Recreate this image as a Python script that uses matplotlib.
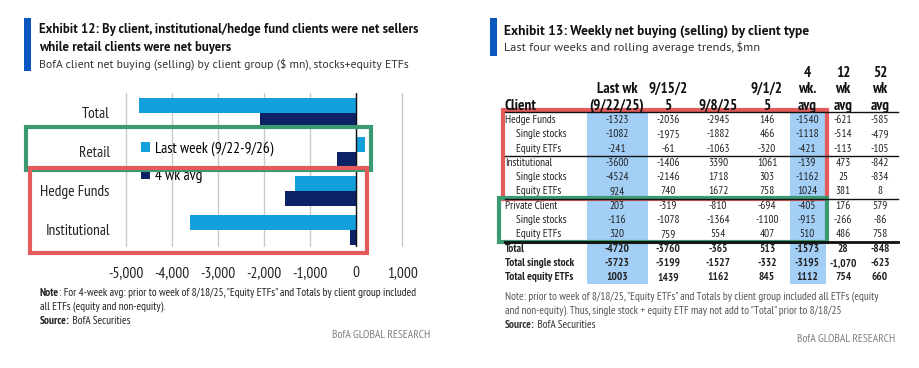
import matplotlib
matplotlib.use('Agg')
import matplotlib.pyplot as plt
from matplotlib.patches import Rectangle

plt.rcParams['font.family'] = ['PT Sans Narrow', 'DejaVu Sans']
HEAD_FONT = ['PT Sans', 'DejaVu Sans']

# ---- Exhibit 12 data
groups = ['Total', 'Retail', 'Hedge Funds', 'Institutional']
last_week = [-4720, 203, -1323, -3600]
avg_4wk = [-2084, -405, -1540, -139]
xticks = [-5000, -4000, -3000, -2000, -1000, 0, 1000]

# ---- Exhibit 13 data
col_heads = [['', '', 'Client'],
             ['', 'Last wk', '(9/22/25)'],
             ['', '9/15/2', '5'],
             ['', '', '9/8/25'],
             ['', '9/1/2', '5'],
             ['4', 'wk.', 'avg'],
             ['12', 'wk', 'avg'],
             ['52', 'wk', 'avg']]
row_names = ['Hedge Funds', 'Single stocks', 'Equity ETFs',
             'Institutional', 'Single stocks', 'Equity ETFs',
             'Private Client', 'Single stocks', 'Equity ETFs',
             'Total', 'Total single stock', 'Total equity ETFs']
row_indent = [0, 1, 1, 0, 1, 1, 0, 1, 1, 0, 0, 0]
row_bold = [0, 0, 0, 0, 0, 0, 0, 0, 0, 1, 1, 1]
table_vals = [
    ['-1323', '-2036', '-2945', '146', '-1540', '-621', '-585'],
    ['-1082', '-1975', '-1882', '466', '-1118', '-514', '-479'],
    ['-241', '-61', '-1063', '-320', '-421', '-113', '-105'],
    ['-3600', '-1406', '3390', '1061', '-139', '473', '-842'],
    ['-4524', '-2146', '1718', '303', '-1162', '25', '-834'],
    ['924', '740', '1672', '758', '1024', '381', '8'],
    ['203', '-319', '-810', '-694', '-405', '176', '579'],
    ['-116', '-1078', '-1364', '-1100', '-915', '-266', '-86'],
    ['320', '759', '554', '407', '510', '486', '758'],
    ['-4720', '-3760', '-365', '513', '-1573', '28', '-848'],
    ['-5723', '-5199', '-1527', '-332', '-3195', '-1,070', '-623'],
    ['1003', '1439', '1162', '845', '1112', '754', '660'],
]

light_blue = '#139fdc'
navy = '#0b2264'
accent = '#0a57c0'
hilite = '#a3cff6'
red = '#e35b5b'
green = '#3c9a72'
W, H = 920, 368

fig = plt.figure(figsize=(9.2, 3.68), dpi=100)
rend = fig.canvas.get_renderer()


def fit_size(text, width, family=None, weight='normal'):
    # font size that makes the text span the given pixel width
    kw = {'family': family} if family else {}
    t = fig.text(0, 0, text, fontsize=10, fontweight=weight, **kw)
    w = t.get_window_extent(rend).width
    t.remove()
    return 10 * width / w


fs_title = fit_size('Exhibit 12: By client, institutional/hedge fund clients were net sellers', 378, HEAD_FONT, 'bold')
fs_sub = fit_size('BofA client net buying (selling) by client group ($ mn), stocks+equity ETFs', 373, HEAD_FONT)
fs_title13 = fit_size('Exhibit 13: Weekly net buying (selling) by client type', 305, HEAD_FONT, 'bold')
fs_sub13 = fit_size('Last four weeks and rolling average trends, $mn', 256, HEAD_FONT)
fs_axis = fit_size('Institutional', 65)
fs_note = fit_size('all ETFs (equity and non-equity).', 126)
fs_note13 = fit_size('Note: prior to week of 8/18/25, "Equity ETFs" and Totals by client group included all ETFs (equity', 378)
fs_body = fit_size('Single stocks', 51)
fs_head = fit_size('(9/22/25)', 55, weight='bold')
fs_brand = fit_size('BofA GLOBAL RESEARCH', 98)


def px_axes(l, t, r, b):
    return fig.add_axes([l / W, 1 - b / H, (r - l) / W, (b - t) / H])


# ---- bar chart
ax = px_axes(123.7, 93, 404.3, 247)
ypos = list(range(len(groups)))
h = 0.385
ax.barh([y - h / 2 for y in ypos], last_week, height=h, color=light_blue,
        label='Last week (9/22-9/26)', zorder=3)
ax.barh([y + h / 2 for y in ypos], avg_4wk, height=h, color=navy,
        label='4 wk avg', zorder=3)
ax.set_xlim(-5050, 1050)
ax.set_ylim(3.44, -0.51)
ax.set_xticks(xticks)
ax.set_xticklabels(['{:,}'.format(v) for v in xticks])
ax.set_yticks(ypos)
ax.set_yticklabels(groups)
ax.tick_params(length=0, labelsize=fs_axis, colors='#222222')
ax.tick_params(axis='x', pad=14)
ax.tick_params(axis='y', pad=10)
for s in ax.spines.values():
    s.set_visible(False)
ax.grid(axis='x', color='#c9c9c9', linewidth=1, zorder=0)
ax.axvline(0, color='#111111', linewidth=1, zorder=4)

ax.legend(loc='upper left', bbox_to_anchor=(141 / W, 1 - 141 / H),
          bbox_transform=fig.transFigure, frameon=False, fontsize=fs_axis,
          handlelength=0.6, handleheight=0.6, handletextpad=0.3,
          labelspacing=0.85, borderpad=0, borderaxespad=0)

# overlay in pixel coordinates
ov = fig.add_axes([0, 0, 1, 1])
ov.set_xlim(0, W)
ov.set_ylim(H, 0)
ov.axis('off')
ov.patch.set_alpha(0)


def rich(x, y, parts, size, color='#222222'):
    # parts: list of (text, bold)
    for txt, bold in parts:
        t = ov.text(x, y, txt, fontsize=size, color=color, va='center',
                    fontweight='bold' if bold else 'normal')
        x += t.get_window_extent(rend).width


# ---- Exhibit 12 headings
ov.add_patch(Rectangle((24, 18), 7.5, 53, color=accent, lw=0))
ov.text(39, 29, 'Exhibit 12: By client, institutional/hedge fund clients were net sellers',
        fontsize=fs_title, fontweight='bold', va='center', color='#111111', family=HEAD_FONT)
ov.text(39, 47.5, 'while retail clients were net buyers',
        fontsize=fs_title, fontweight='bold', va='center', color='#111111', family=HEAD_FONT)
ov.text(39, 64.5, 'BofA client net buying (selling) by client group ($ mn), stocks+equity ETFs',
        fontsize=fs_sub, va='center', color='#333333', family=HEAD_FONT)

ov.add_patch(Rectangle((26, 127), 345, 43, fill=False, ec=green, lw=3))
ov.add_patch(Rectangle((30, 168), 337, 85, fill=False, ec=red, lw=3))

rich(40, 293, [('Note', True), (': For 4-week avg: prior to week of 8/18/25, "Equity ETFs" and Totals by client group included', False)], fs_note)
ov.text(40, 307, 'all ETFs (equity and non-equity).', fontsize=fs_note, va='center', color='#222222')
rich(40, 321, [('Source:', True), (' BofA Securities', False)], fs_note)
ov.text(430, 335, 'BofA GLOBAL RESEARCH', fontsize=fs_brand, ha='right', va='center', color='#808080')

# ---- Exhibit 13
ov.add_patch(Rectangle((490, 18), 7.5, 38, color=accent, lw=0))
ov.text(504, 31, 'Exhibit 13: Weekly net buying (selling) by client type',
        fontsize=fs_title13, fontweight='bold', va='center', color='#111111', family=HEAD_FONT)
ov.text(504, 47.5, 'Last four weeks and rolling average trends, $mn',
        fontsize=fs_sub13, va='center', color='#333333', family=HEAD_FONT)

col_x = [505, 617, 668, 718, 767, 807, 843, 880]
head_y = [73, 89, 106]
row_y = [120 + i * 14.3 for i in range(len(row_names))]
tbl_left, tbl_right = 505, 898

# highlighted columns
for l, r in [(587, 648), (790, 826)]:
    ov.add_patch(Rectangle((l, 113), r - l, 171, color=hilite, lw=0, zorder=0))

for j, lines in enumerate(col_heads):
    for k, txt in enumerate(lines):
        ov.text(col_x[j], head_y[k], txt, fontsize=fs_head, fontweight='bold',
                ha='left' if j == 0 else 'center', va='center', color='#111111')
ov.plot([tbl_left, tbl_right], [112, 112], color='#111111', lw=1)

for i, name in enumerate(row_names):
    wt = 'bold' if row_bold[i] else 'normal'
    ov.text(col_x[0] + 11 * row_indent[i], row_y[i], name, fontsize=fs_body,
            fontweight=wt, va='center', color='#222222')
    for j, v in enumerate(table_vals[i]):
        ov.text(col_x[j + 1], row_y[i], v, fontsize=fs_body, fontweight=wt,
                ha='center', va='center', color='#222222')

for yy, lw in [(155.5, 1), (199, 1), (242, 2)]:
    ov.plot([tbl_left, tbl_right], [yy, yy], color='#111111', lw=lw)

ov.add_patch(Rectangle((503, 110), 324, 89, fill=False, ec=red, lw=3))
ov.add_patch(Rectangle((499, 198), 328, 44, fill=False, ec=green, lw=3))

ov.text(505, 297, 'Note: prior to week of 8/18/25, "Equity ETFs" and Totals by client group included all ETFs (equity',
        fontsize=fs_note13, va='center', color='#555555')
ov.text(505, 311, 'and non-equity). Thus, single stock + equity ETF may not add to "Total" prior to 8/18/25',
        fontsize=fs_note13, va='center', color='#555555')
rich(505, 325, [('Source:', True), (' BofA Securities', False)], fs_note13, color='#333333')
ov.text(895, 339, 'BofA GLOBAL RESEARCH', fontsize=fs_brand, ha='right', va='center', color='#808080')

fig.savefig('out.png', dpi=100)
